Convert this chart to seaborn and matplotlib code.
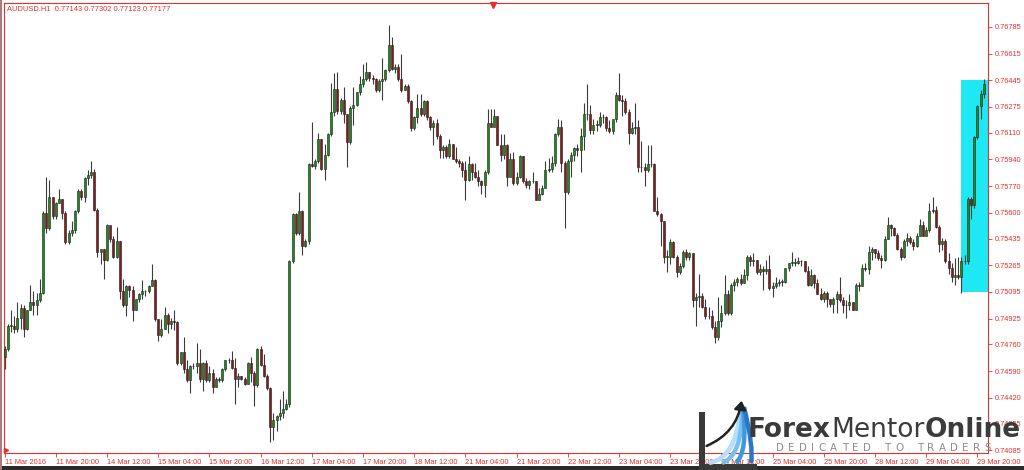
import numpy as np
import pandas as pd
import matplotlib
matplotlib.use("Agg")
import matplotlib.pyplot as plt
import seaborn as sns
from matplotlib.patches import Rectangle, FancyArrowPatch, PathPatch
from matplotlib.path import Path

# AUDUSD H1, 11 Mar 2016 - 29 Mar 2016
chart_title = "AUDUSD.H1  0.77143 0.77302 0.77123 0.77177"
first_open = 0.7468

closes = [
    0.7473, 0.7488, 0.7488, 0.7486, 0.7493, 0.7499, 0.7486, 0.7498, 0.7503, 0.7501,
    0.7504, 0.7509, 0.7560, 0.7550, 0.7570, 0.7558, 0.7566, 0.7569, 0.7560, 0.7541,
    0.7547, 0.7549, 0.7561, 0.7574, 0.7570, 0.7582, 0.7584, 0.7586, 0.7562, 0.7535,
    0.7537, 0.7530, 0.7552, 0.7543, 0.7532, 0.7542, 0.7510, 0.7501, 0.7513, 0.7511,
    0.7498, 0.7505, 0.7508, 0.7510, 0.7510, 0.7513, 0.7517, 0.7492, 0.7482, 0.7486,
    0.7495, 0.7489, 0.7491, 0.7490, 0.7464, 0.7471, 0.7460, 0.7453, 0.7462, 0.7462,
    0.7464, 0.7454, 0.7464, 0.7453, 0.7458, 0.7449, 0.7454, 0.7453, 0.7460, 0.7466,
    0.7466, 0.7461, 0.7454, 0.7456, 0.7454, 0.7451, 0.7464, 0.7458, 0.7450, 0.7473,
    0.7463, 0.7456, 0.7448, 0.7423, 0.7428, 0.7430, 0.7432, 0.7435, 0.7438, 0.7529,
    0.7559, 0.7547, 0.7561, 0.7539, 0.7542, 0.7591, 0.7590, 0.7593, 0.7607, 0.7588,
    0.7597, 0.7610, 0.7624, 0.7639, 0.7625, 0.7632, 0.7623, 0.7605, 0.7627, 0.7629,
    0.7637, 0.7642, 0.7645, 0.7650, 0.7646, 0.7645, 0.7638, 0.7644, 0.7645, 0.7651,
    0.7667, 0.7652, 0.7653, 0.7645, 0.7638, 0.7641, 0.7631, 0.7614, 0.7621, 0.7627,
    0.7623, 0.7631, 0.7621, 0.7615, 0.7617, 0.7609, 0.7600, 0.7602, 0.7596, 0.7604,
    0.7594, 0.7593, 0.7592, 0.7587, 0.7581, 0.7591, 0.7586, 0.7583, 0.7580, 0.7578,
    0.7586, 0.7617, 0.7615, 0.7622, 0.7603, 0.7597, 0.7603, 0.7583, 0.7594, 0.7579,
    0.7583, 0.7596, 0.7580, 0.7578, 0.7580, 0.7580, 0.7568, 0.7572, 0.7576, 0.7587,
    0.7588, 0.7592, 0.7610, 0.7615, 0.7592, 0.7573, 0.7593, 0.7597, 0.7601, 0.7600,
    0.7609, 0.7623, 0.7623, 0.7613, 0.7616, 0.7616, 0.7621, 0.7621, 0.7614, 0.7612,
    0.7620, 0.7635, 0.7632, 0.7631, 0.7624, 0.7611, 0.7614, 0.7615, 0.7589, 0.7589,
    0.7587, 0.7591, 0.7591, 0.7561, 0.7559, 0.7555, 0.7532, 0.7532, 0.7541, 0.7532,
    0.7522, 0.7526, 0.7535, 0.7532, 0.7534, 0.7504, 0.7506, 0.7507, 0.7500, 0.7494,
    0.7494, 0.7487, 0.7481, 0.7491, 0.7496, 0.7508, 0.7496, 0.7514, 0.7516, 0.7518,
    0.7515, 0.7520, 0.7532, 0.7529, 0.7530, 0.7522, 0.7524, 0.7523, 0.7524, 0.7512,
    0.7513, 0.7515, 0.7516, 0.7516, 0.7525, 0.7528, 0.7528, 0.7528, 0.7529, 0.7529,
    0.7523, 0.7514, 0.7520, 0.7515, 0.7508, 0.7505, 0.7509, 0.7505, 0.7502, 0.7505,
    0.7508, 0.7504, 0.7501, 0.7501, 0.7503, 0.7498, 0.7514, 0.7513, 0.7525, 0.7524,
    0.7535, 0.7537, 0.7534, 0.7531, 0.7530, 0.7543, 0.7552, 0.7550, 0.7546, 0.7537,
    0.7532, 0.7542, 0.7544, 0.7541, 0.7539, 0.7545, 0.7552, 0.7545, 0.7549, 0.7561,
    0.7562, 0.7551, 0.7540, 0.7542, 0.7529, 0.7525, 0.7519, 0.7520, 0.7519, 0.7529,
    0.7529, 0.7569, 0.7565, 0.7608, 0.7628, 0.7636, 0.7642,
]

highs = [
    0.7475, 0.7489, 0.7498, 0.7494, 0.7503, 0.7502, 0.7501, 0.7498, 0.7514, 0.7510,
    0.7509, 0.7518, 0.7561, 0.7583, 0.7581, 0.7570, 0.7567, 0.7575, 0.7569, 0.7561,
    0.7549, 0.7555, 0.7562, 0.7575, 0.7575, 0.7583, 0.7587, 0.7593, 0.7588, 0.7563,
    0.7537, 0.7537, 0.7553, 0.7552, 0.7545, 0.7551, 0.7542, 0.7518, 0.7514, 0.7514,
    0.7513, 0.7505, 0.7509, 0.7517, 0.7511, 0.7514, 0.7527, 0.7518, 0.7492, 0.7492,
    0.7500, 0.7496, 0.7493, 0.7498, 0.7491, 0.7471, 0.7481, 0.7466, 0.7463, 0.7464,
    0.7477, 0.7473, 0.7465, 0.7466, 0.7462, 0.7460, 0.7455, 0.7455, 0.7461, 0.7466,
    0.7467, 0.7472, 0.7467, 0.7458, 0.7456, 0.7455, 0.7465, 0.7468, 0.7459, 0.7474,
    0.7475, 0.7470, 0.7457, 0.7449, 0.7432, 0.7431, 0.7441, 0.7446, 0.7441, 0.7530,
    0.7560, 0.7560, 0.7573, 0.7562, 0.7543, 0.7592, 0.7618, 0.7594, 0.7611, 0.7607,
    0.7604, 0.7611, 0.7643, 0.7649, 0.7650, 0.7633, 0.7640, 0.7623, 0.7628, 0.7640,
    0.7637, 0.7647, 0.7655, 0.7656, 0.7649, 0.7648, 0.7646, 0.7645, 0.7659, 0.7652,
    0.7680, 0.7672, 0.7655, 0.7655, 0.7661, 0.7642, 0.7642, 0.7632, 0.7622, 0.7636,
    0.7636, 0.7632, 0.7632, 0.7622, 0.7619, 0.7620, 0.7610, 0.7603, 0.7603, 0.7607,
    0.7604, 0.7602, 0.7594, 0.7593, 0.7593, 0.7596, 0.7592, 0.7592, 0.7587, 0.7581,
    0.7587, 0.7626, 0.7626, 0.7626, 0.7622, 0.7610, 0.7610, 0.7604, 0.7598, 0.7599,
    0.7586, 0.7597, 0.7596, 0.7582, 0.7581, 0.7586, 0.7580, 0.7576, 0.7578, 0.7593,
    0.7595, 0.7596, 0.7611, 0.7620, 0.7619, 0.7593, 0.7594, 0.7599, 0.7602, 0.7604,
    0.7614, 0.7630, 0.7642, 0.7629, 0.7620, 0.7619, 0.7624, 0.7623, 0.7622, 0.7619,
    0.7620, 0.7637, 0.7649, 0.7635, 0.7633, 0.7626, 0.7618, 0.7630, 0.7619, 0.7606,
    0.7592, 0.7603, 0.7603, 0.7592, 0.7570, 0.7560, 0.7555, 0.7536, 0.7543, 0.7542,
    0.7533, 0.7528, 0.7536, 0.7537, 0.7535, 0.7534, 0.7509, 0.7521, 0.7509, 0.7505,
    0.7500, 0.7498, 0.7491, 0.7506, 0.7501, 0.7520, 0.7511, 0.7515, 0.7518, 0.7519,
    0.7521, 0.7524, 0.7533, 0.7533, 0.7534, 0.7530, 0.7527, 0.7526, 0.7530, 0.7533,
    0.7516, 0.7519, 0.7518, 0.7518, 0.7525, 0.7528, 0.7535, 0.7531, 0.7532, 0.7530,
    0.7529, 0.7526, 0.7524, 0.7521, 0.7518, 0.7512, 0.7510, 0.7510, 0.7505, 0.7506,
    0.7510, 0.7519, 0.7506, 0.7504, 0.7508, 0.7503, 0.7515, 0.7516, 0.7527, 0.7528,
    0.7539, 0.7538, 0.7537, 0.7536, 0.7533, 0.7545, 0.7557, 0.7553, 0.7551, 0.7547,
    0.7538, 0.7543, 0.7547, 0.7545, 0.7543, 0.7547, 0.7556, 0.7555, 0.7551, 0.7566,
    0.7570, 0.7564, 0.7552, 0.7544, 0.7543, 0.7534, 0.7528, 0.7531, 0.7532, 0.7532,
    0.7533, 0.7570, 0.7570, 0.7609, 0.7629, 0.7638, 0.7645,
]

lows = [
    0.7460, 0.7472, 0.7484, 0.7483, 0.7484, 0.7486, 0.7481, 0.7485, 0.7498, 0.7495,
    0.7495, 0.7503, 0.7508, 0.7547, 0.7549, 0.7556, 0.7556, 0.7566, 0.7556, 0.7540,
    0.7540, 0.7545, 0.7547, 0.7560, 0.7568, 0.7567, 0.7578, 0.7582, 0.7561, 0.7532,
    0.7527, 0.7518, 0.7529, 0.7541, 0.7531, 0.7531, 0.7505, 0.7500, 0.7494, 0.7506,
    0.7491, 0.7498, 0.7503, 0.7505, 0.7507, 0.7509, 0.7513, 0.7491, 0.7478, 0.7481,
    0.7486, 0.7483, 0.7486, 0.7485, 0.7463, 0.7463, 0.7458, 0.7452, 0.7445, 0.7460,
    0.7458, 0.7452, 0.7446, 0.7452, 0.7452, 0.7445, 0.7449, 0.7452, 0.7452, 0.7459,
    0.7464, 0.7460, 0.7438, 0.7449, 0.7453, 0.7450, 0.7451, 0.7452, 0.7437, 0.7449,
    0.7462, 0.7455, 0.7447, 0.7414, 0.7415, 0.7421, 0.7428, 0.7429, 0.7434, 0.7436,
    0.7528, 0.7546, 0.7546, 0.7533, 0.7538, 0.7540, 0.7589, 0.7588, 0.7592, 0.7587,
    0.7581, 0.7596, 0.7609, 0.7622, 0.7623, 0.7623, 0.7617, 0.7589, 0.7604, 0.7616,
    0.7628, 0.7635, 0.7640, 0.7644, 0.7644, 0.7642, 0.7637, 0.7637, 0.7632, 0.7644,
    0.7650, 0.7651, 0.7649, 0.7644, 0.7637, 0.7638, 0.7630, 0.7612, 0.7613, 0.7617,
    0.7622, 0.7622, 0.7619, 0.7613, 0.7603, 0.7607, 0.7595, 0.7595, 0.7595, 0.7595,
    0.7594, 0.7592, 0.7589, 0.7583, 0.7568, 0.7580, 0.7581, 0.7582, 0.7577, 0.7572,
    0.7570, 0.7585, 0.7615, 0.7615, 0.7603, 0.7593, 0.7594, 0.7577, 0.7583, 0.7578,
    0.7578, 0.7582, 0.7579, 0.7576, 0.7575, 0.7579, 0.7568, 0.7568, 0.7571, 0.7576,
    0.7586, 0.7586, 0.7590, 0.7609, 0.7586, 0.7550, 0.7572, 0.7583, 0.7593, 0.7596,
    0.7586, 0.7600, 0.7619, 0.7610, 0.7610, 0.7612, 0.7615, 0.7617, 0.7612, 0.7611,
    0.7610, 0.7618, 0.7631, 0.7622, 0.7623, 0.7604, 0.7610, 0.7610, 0.7586, 0.7586,
    0.7577, 0.7586, 0.7589, 0.7561, 0.7558, 0.7539, 0.7528, 0.7522, 0.7527, 0.7531,
    0.7519, 0.7521, 0.7525, 0.7530, 0.7530, 0.7500, 0.7488, 0.7500, 0.7499, 0.7492,
    0.7492, 0.7486, 0.7477, 0.7479, 0.7487, 0.7495, 0.7495, 0.7495, 0.7510, 0.7513,
    0.7514, 0.7515, 0.7517, 0.7526, 0.7526, 0.7521, 0.7520, 0.7511, 0.7521, 0.7511,
    0.7506, 0.7512, 0.7513, 0.7513, 0.7515, 0.7523, 0.7526, 0.7526, 0.7527, 0.7526,
    0.7522, 0.7513, 0.7513, 0.7512, 0.7508, 0.7504, 0.7503, 0.7500, 0.7500, 0.7496,
    0.7496, 0.7503, 0.7496, 0.7493, 0.7498, 0.7498, 0.7498, 0.7510, 0.7513, 0.7523,
    0.7521, 0.7530, 0.7531, 0.7530, 0.7525, 0.7529, 0.7543, 0.7545, 0.7545, 0.7536,
    0.7530, 0.7531, 0.7539, 0.7540, 0.7536, 0.7538, 0.7545, 0.7545, 0.7545, 0.7548,
    0.7560, 0.7550, 0.7535, 0.7536, 0.7528, 0.7521, 0.7516, 0.7514, 0.7518, 0.7509,
    0.7527, 0.7527, 0.7556, 0.7563, 0.7607, 0.7620, 0.7633,
]

time_labels = [
    "11 Mar 2016", "11 Mar 20:00", "14 Mar 12:00", "15 Mar 04:00", "15 Mar 20:00",
    "16 Mar 12:00", "17 Mar 04:00", "17 Mar 20:00", "18 Mar 12:00", "21 Mar 04:00",
    "21 Mar 20:00", "22 Mar 12:00", "23 Mar 04:00", "23 Mar 20:00", "24 Mar 12:00",
    "25 Mar 04:00", "25 Mar 20:00", "28 Mar 12:00", "29 Mar 04:00", "29 Mar 20:00",
]
bars_per_label = 16

price_ticks = [
    0.76785, 0.76615, 0.76445, 0.76275, 0.76110, 0.75940, 0.75770, 0.75600, 0.75435,
    0.75265, 0.75095, 0.74925, 0.74760, 0.74590, 0.74420, 0.74255, 0.74085,
]

# cyan box drawn on the chart (bar range / price range)
box_bars = (298.8, 307.2)
box_prices = (0.75095, 0.76445)

df = pd.DataFrame({"close": closes, "high": highs, "low": lows})
df["open"] = [first_open] + closes[:-1]
df["bar"] = np.arange(len(df))
df["high"] = df[["high", "open", "close"]].max(axis=1)
df["low"] = df[["low", "open", "close"]].min(axis=1)
df["up"] = df["close"] >= df["open"]

sns.set_theme(style="white")
plt.rcParams["font.family"] = ["Liberation Sans", "DejaVu Sans"]

W, H = 1024, 470
fig = plt.figure(figsize=(W / 100, H / 100), dpi=100)
fig.patch.set_facecolor("white")
ax = fig.add_axes([4 / W, 17 / H, 984 / W, 450 / H])
ax.set_facecolor("white")

red = "#e5302a"

ax.add_patch(Rectangle((box_bars[0], box_prices[0]), box_bars[1] - box_bars[0],
                       box_prices[1] - box_prices[0], facecolor="#1ee8f4",
                       edgecolor="none", zorder=1))

ax.vlines(df["bar"], df["low"], df["high"], color="#3c3c3c", lw=0.8, zorder=2)
body_bottom = df[["open", "close"]].min(axis=1)
body_height = (df["close"] - df["open"]).abs().clip(lower=0.00003)
body_colors = np.where(df["up"], "#1d8c1d", "#8a1a1a")
ax.bar(df["bar"], body_height, bottom=body_bottom, width=0.66, color=body_colors,
       edgecolor="#1c1c1c", linewidth=0.4, zorder=3)

ax.set_xlim(-0.2, 307.3)
ax.set_ylim(0.74067, 0.76938)

for s in ax.spines.values():
    s.set_color(red)
    s.set_linewidth(0.8)

ax.yaxis.tick_right()
ax.set_yticks(price_ticks)
ax.set_yticklabels([f"{v:.5f}" for v in price_ticks])
ax.tick_params(axis="y", which="both", left=False, right=True, labelleft=False,
               labelright=True, colors=red, labelsize=5.3, length=3, width=0.6,
               pad=2, direction="out")

ax.set_xticks(np.arange(len(time_labels)) * bars_per_label)
ax.set_xticklabels(time_labels, ha="left")
ax.tick_params(axis="x", which="both", bottom=True, colors=red, labelsize=5.3,
               length=3, width=0.6, pad=1.5, direction="out")
ax.grid(False)

ax.text(3 / 984, 1 - 3 / 450, chart_title, transform=ax.transAxes, color=red,
        fontsize=5.4, ha="left", va="top")
ax.plot([(493 - 4) / 984], [1 - 1.5 / 450], marker="v", ms=4, color=red,
        transform=ax.transAxes, clip_on=False)
ax.plot([0.002], [0.006], marker=">", ms=3, color=red, transform=ax.transAxes,
        clip_on=False)

# window frame bits
fig.patches.append(Rectangle((0, 0), 1, 4 / H, transform=fig.transFigure,
                             facecolor="#2a2a2a", edgecolor="none"))
fig.patches.append(Rectangle((0, 0), 2 / W, 1, transform=fig.transFigure,
                             facecolor="#b07a7a", edgecolor="none"))


# watermark logo
def fp(x, y):
    return (x / W, 1 - y / H)


fig.patches.append(Rectangle(fp(699, 470), 6 / W, 58 / H, transform=fig.transFigure,
                             facecolor="#3a3a3a", edgecolor="none", zorder=5))
fig.patches.append(Rectangle(fp(699, 470), 58 / W, 6 / H, transform=fig.transFigure,
                             facecolor="#3a3a3a", edgecolor="none", zorder=5))

swooshes = [
    ((709, 463), (736, 458), (740, 412), "#b4defa"),
    ((722, 463), (742, 456), (742, 410), "#76bff0"),
    ((736, 463), (748, 452), (743, 408), "#3f98dc"),
    ((751, 463), (754, 448), (744, 407), "#2a78c4"),
]
for p0, pc, p1, col in swooshes:
    path = Path([fp(*p0), fp(*pc), fp(*p1)], [Path.MOVETO, Path.CURVE3, Path.CURVE3])
    fig.patches.append(PathPatch(path, transform=fig.transFigure, facecolor="none",
                                 edgecolor=col, lw=3.2, zorder=5))

arrow = FancyArrowPatch(fp(704, 447), fp(742, 398), transform=fig.transFigure,
                        connectionstyle="arc3,rad=0.3",
                        arrowstyle="-|>,head_length=5,head_width=3.5",
                        color="#222222", lw=1.8, zorder=6)
fig.patches.append(arrow)

renderer = fig.canvas.get_renderer()
x = 748
for part, weight in [("Forex", "bold"), ("Mentor", "normal"), ("Online", "bold")]:
    t = fig.text(x / W, 1 - 437 / H, part, fontsize=19, fontweight=weight,
                 color="#3b3b3b", family="DejaVu Sans", va="baseline", zorder=6)
    x += t.get_window_extent(renderer).width

x = 776
for ch in "DEDICATED TO TRADERS":
    if ch == " ":
        x += 9
        continue
    t = fig.text(x / W, 1 - 451 / H, ch, fontsize=7.4, color="#8c8c8c",
                 family="DejaVu Sans", va="baseline", zorder=6)
    x += t.get_window_extent(renderer).width + 4.4

fig.savefig("out.png", dpi=100, facecolor="white")
